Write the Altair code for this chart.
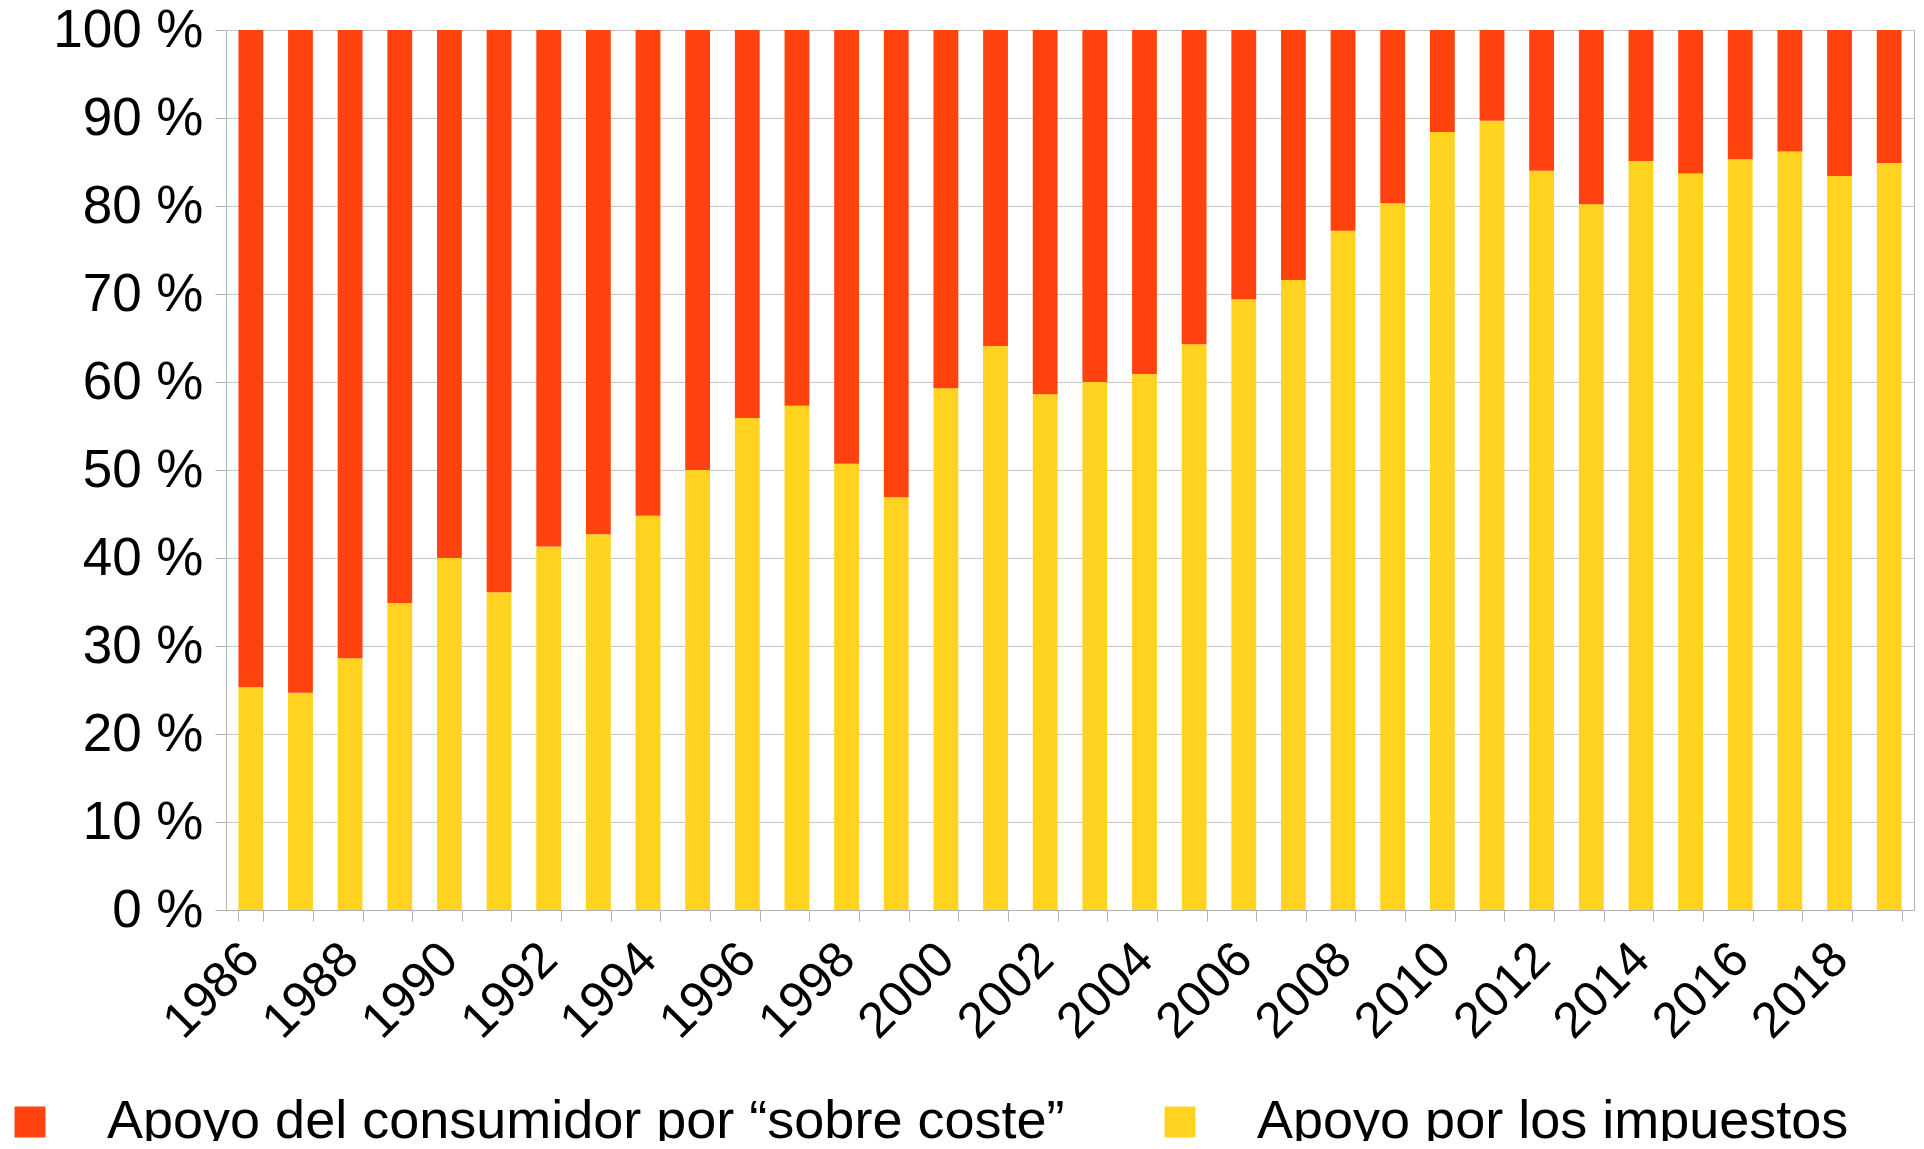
import altair as alt
import pandas as pd

years = [str(y) for y in range(1986, 2020)]
impuestos = [25.3, 24.7, 28.6, 34.9, 40.0, 36.1, 41.3, 42.7, 44.8, 50.0,
             55.9, 57.3, 50.7, 46.9, 59.3, 64.1, 58.6, 60.0, 60.9, 64.3,
             69.4, 71.6, 77.2, 80.3, 88.4, 89.7, 84.0, 80.2, 85.1, 83.7,
             85.3, 86.2, 83.4, 84.9]
consumidor = [round(100 - v, 1) for v in impuestos]

serie_consumidor = "Apoyo del consumidor por \u201csobre coste\u201d"
serie_impuestos = "Apoyo por los impuestos"
series = [serie_consumidor, serie_impuestos]
colores = ["#ff420e", "#ffd320"]

rows = []
for y, a, b in zip(years, impuestos, consumidor):
    rows.append({"year": y, "serie": serie_impuestos, "value": a, "ord": 0})
    rows.append({"year": y, "serie": serie_consumidor, "value": b, "ord": 1})
df = pd.DataFrame(rows)

FONT = "Liberation Sans"

chart = alt.Chart(df).mark_bar().encode(
    x=alt.X("year:O", title=None, sort=years,
            scale=alt.Scale(paddingInner=0.5, paddingOuter=0.25),
            axis=alt.Axis(labelAngle=-45, labelAlign="right", labelBaseline="middle",
                          labelFontSize=50, labelFont=FONT, labelColor="#000000",
                          labelPadding=30, labelOverlap=False,
                          labelExpr="(toNumber(datum.value) - 1986) % 2 == 0 ? datum.label : ''",
                          tickBand="extent", tickSize=11, tickColor="#b3b3b3",
                          domainColor="#b3b3b3", grid=False)),
    y=alt.Y("value:Q", title=None, stack="zero",
            scale=alt.Scale(domain=[0, 100], nice=False),
            axis=alt.Axis(values=list(range(0, 101, 10)), labelExpr="datum.value + ' %'",
                          labelFontSize=53, labelFont=FONT, labelColor="#000000",
                          labelPadding=12, tickSize=11, tickColor="#b3b3b3",
                          domainColor="#b3b3b3", gridColor="#c8c8c8")),
    color=alt.Color("serie:N", sort=series,
                    scale=alt.Scale(domain=series, range=colores),
                    legend=alt.Legend(title=None, orient="none", direction="horizontal",
                                      legendX=-223, legendY=1065, padding=0,
                                      symbolType="square", symbolSize=961,
                                      symbolStrokeWidth=0, labelFontSize=54,
                                      labelFont=FONT, labelColor="#000000",
                                      labelOffset=50, columnPadding=88, labelLimit=2000)),
    order=alt.Order("ord:Q"),
).properties(
    width=1688, height=880,
    autosize=alt.AutoSizeParams(type="none"),
    padding={"left": 218, "top": 22, "right": 2, "bottom": 231},
).configure_view(stroke="#b3b3b3")

chart.save("out.html", embed_options={"renderer": "svg", "actions": False})
